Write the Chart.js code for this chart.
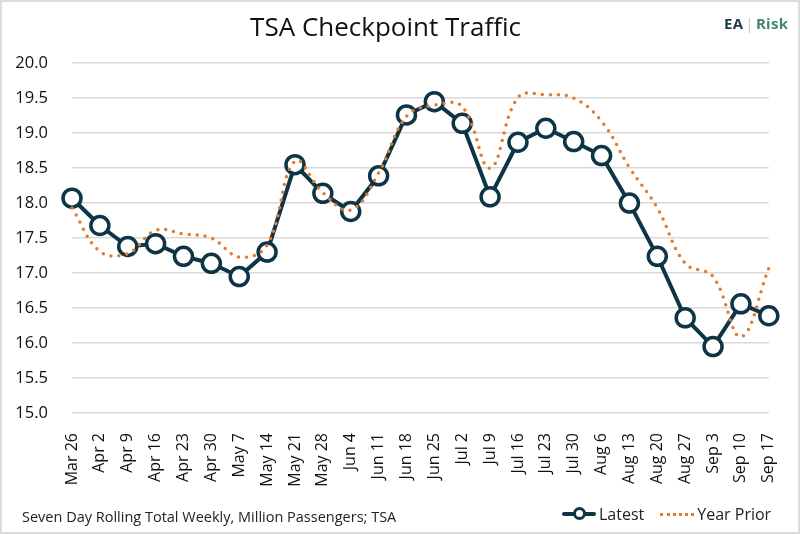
<!DOCTYPE html>
<html>
<head>
<meta charset="utf-8">
<script src="https://cdn.jsdelivr.net/npm/chart.js@4/dist/chart.umd.min.js"></script>
<style>
  html, body { margin: 0; padding: 0; background: #fff; }
  #wrap {
    position: relative; width: 800px; height: 534px; box-sizing: border-box;
    border: 2px solid #dcdcdc; overflow: hidden; font-family: 'Open Sans', sans-serif;
  }
  #chart { position: absolute; left: -2px; top: -2px; }
  .logo { position: absolute; left: 722px; top: 11px; font-size: 15px; font-weight: 700; letter-spacing: 0.3px; }
  .logo .ea { color: #1b3a47; }
  .logo .bar { color: #b9cfc6; font-weight: 400; margin: 0 2px; }
  .logo .risk { color: #3f8a6c; }
  .note { position: absolute; left: 20px; top: 505px; font-size: 14.5px; color: #222; }
  .legend { position: absolute; left: 560px; top: 501px; font-size: 16px; color: #222; display: flex; align-items: center; }
  .legend .item { display: flex; align-items: center; margin-right: 16px; }
  .mk-line { position: relative; width: 34px; height: 4px; background: #0d3546; border-radius: 2px; margin-right: 3px; }
  .mk-line::after {
    content: ''; position: absolute; left: 11px; top: -5px; width: 7px; height: 7px;
    border: 3px solid #0d3546; border-radius: 50%; background: #fff;
  }
  .mk-dot { width: 34px; height: 0; border-top: 3.5px dotted #e07b30; margin-right: 3px; }
</style>
</head>
<body>
<div id="wrap">
  <canvas id="chart" width="800" height="534"></canvas>
  <div class="logo"><span class="ea">EA</span><span class="bar">|</span><span class="risk">Risk</span></div>
  <div class="note">Seven Day Rolling Total Weekly, Million Passengers; TSA</div>
  <div class="legend">
    <div class="item"><div class="mk-line"></div>Latest</div>
    <div class="item"><div class="mk-dot"></div>Year Prior</div>
  </div>
</div>
<script>
const weeks = ['Mar 26', 'Apr 2', 'Apr 9', 'Apr 16', 'Apr 23', 'Apr 30', 'May 7', 'May 14', 'May 21', 'May 28',
    'Jun 4', 'Jun 11', 'Jun 18', 'Jun 25', 'Jul 2', 'Jul 9', 'Jul 16', 'Jul 23', 'Jul 30',
    'Aug 6', 'Aug 13', 'Aug 20', 'Aug 27', 'Sep 3', 'Sep 10', 'Sep 17'];

const latest = [18.07, 17.68, 17.38, 17.42, 17.24, 17.14, 16.95, 17.30, 18.55, 18.14,
    17.88, 18.39, 19.26, 19.45, 19.14, 18.09, 18.87, 19.07, 18.88,
    18.68, 18.00, 17.24, 16.36, 15.95, 16.56, 16.39];

const yearPrior = [17.93, 17.31, 17.28, 17.61, 17.56, 17.50, 17.23, 17.40, 18.60, 18.15,
    17.90, 18.43, 19.24, 19.40, 19.38, 18.50, 19.51, 19.55, 19.50,
    19.17, 18.51, 17.93, 17.14, 16.95, 16.09, 17.07];

const yMin = 15.0;
const yMax = 20.0;
const yStep = 0.5;

const ctx = document.getElementById('chart').getContext('2d');
new Chart(ctx, {
    type: 'line',
    data: {
        labels: weeks,
        datasets: [{
            label: 'Latest',
            data: latest,
            borderColor: '#0d3546',
            borderWidth: 4,
            tension: 0,
            pointRadius: 9,
            pointBorderWidth: 3.5,
            pointBackgroundColor: '#ffffff',
            pointBorderColor: '#0d3546',
            order: 2
        }, {
            label: 'Year Prior',
            data: yearPrior,
            borderColor: '#e07b30',
            borderWidth: 3.5,
            borderDash: [0, 8],
            borderCapStyle: 'round',
            tension: 0.4,
            pointRadius: 0,
            order: 1
        }]
    },
    options: {
        responsive: false,
        animation: false,
        layout: { padding: { left: 0, right: 29, bottom: 41 } },
        scales: {
            x: {
                offset: false,
                grid: { display: false },
                border: { display: false },
                ticks: {
                    color: '#111',
                    font: { family: 'Open Sans', size: 16 },
                    maxRotation: 90,
                    minRotation: 90,
                    autoSkip: false,
                    padding: 12
                },
                afterFit: (scale) => { scale.height = 80; }
            },
            y: {
                min: yMin,
                max: yMax,
                border: { display: false },
                grid: { color: '#d9d9d9', lineWidth: 1.5, drawTicks: false },
                ticks: {
                    stepSize: yStep,
                    color: '#111',
                    padding: 24,
                    font: { family: 'Open Sans', size: 16.5 },
                    callback: (v) => Number(v).toFixed(1)
                },
                afterFit: (scale) => { scale.width = 72; }
            }
        },
        plugins: {
            legend: { display: false },
            tooltip: { enabled: false },
            title: {
                display: true,
                text: 'TSA Checkpoint Traffic',
                color: '#111',
                font: { family: 'Open Sans', size: 26, weight: 'normal' },
                padding: { top: 13, bottom: 19 }
            }
        }
    }
});
</script>
</body>
</html>
